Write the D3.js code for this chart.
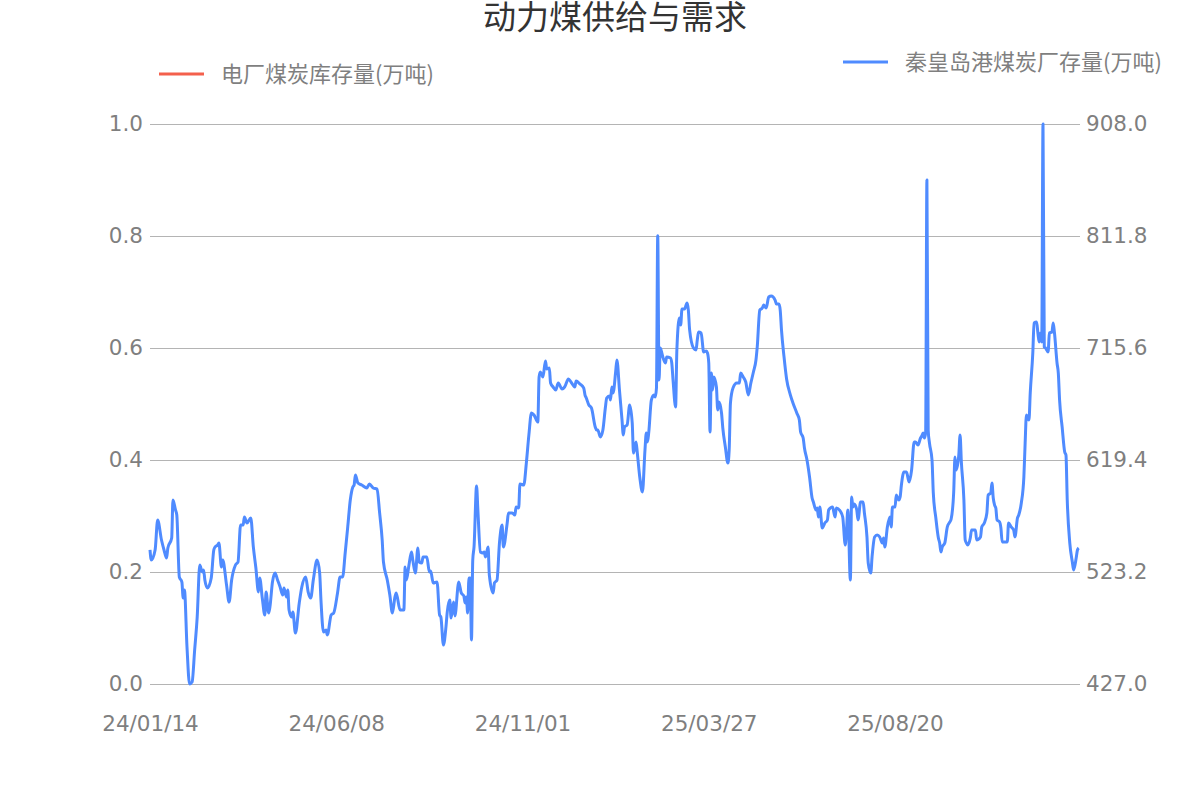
<!DOCTYPE html>
<html>
<head>
<meta charset="utf-8">
<script src="https://cdn.jsdelivr.net/npm/d3@7"></script>
<style>
  html, body { margin: 0; padding: 0; background: #ffffff; }
  svg { display: block; }
</style>
</head>
<body>
<svg id="chart" width="1200" height="800"></svg>
<script>
// ---------- data ----------
const chartTitle = "动力煤供给与需求";
const legendLeft = "电厂煤炭库存量(万吨)";
const legendRight = "秦皇岛港煤炭厂存量(万吨)";
const startDate = "2024-01-14";
const totalDays = 729;
const xTickLabels = ["24/01/14", "24/06/08", "24/11/01", "25/03/27", "25/08/20"];
const xTickDays = [0, 146, 292, 438, 584];
const leftTicks = [0, 0.2, 0.4, 0.6, 0.8, 1.0];
const rightTicks = [427.0, 523.2, 619.4, 715.6, 811.8, 908.0];
// power plant coal stock: no data shown
const plantStockDays = [];
const plantStockValues = [];
// Qinhuangdao port coal stock (10k tonnes): day offset from startDate, value
const portDays = [0,1,4,6,9,11,13,14,17,18,20,21,23,25,26,27,29,31,33,35,37,39,41,42,43,45,48,50,51,53,54,56,57,60,62,64,67,69,71,73,74,76,79,81,83,85,86,88,90,91,93,94,96,98,100,102,104,105,107,108,109,111,112,114,117,119,122,124,126,128,131,133,134,136,138,139,142,144,147,149,151,153,155,157,159,160,161,163,166,170,172,175,178,180,182,183,186,188,190,192,193,196,199,200,201,203,205,206,208,210,211,213,214,217,219,220,222,225,227,228,230,232,233,235,236,238,239,242,244,246,247,248,249,250,251,252,253,254,256,257,259,261,262,263,265,266,269,270,272,274,276,277,280,281,284,286,287,289,290,293,295,297,299,301,304,305,306,308,310,311,313,314,316,318,320,323,325,328,330,333,334,337,340,341,342,344,346,349,350,351,353,355,357,358,360,361,362,363,365,366,368,370,371,372,374,376,378,379,381,382,384,386,388,389,390,391,393,395,396,397,398,399,400,401,402,404,405,408,409,410,412,413,415,416,417,419,421,422,423,426,428,429,430,432,434,436,437,438,439,440,441,442,444,445,446,448,449,451,453,454,455,457,460,462,463,465,467,469,471,473,475,476,478,480,481,483,485,487,490,491,493,494,495,497,499,502,504,507,509,510,512,513,515,517,519,520,522,523,524,525,527,529,531,532,535,537,538,541,543,545,546,547,549,550,551,552,554,555,557,559,560,562,563,565,566,568,570,572,574,575,576,578,580,581,582,584,585,587,588,589,591,593,595,597,599,600,602,604,605,606,607,608,609,610,611,613,614,616,618,619,620,621,623,625,627,628,630,631,632,634,635,636,638,639,640,641,643,644,647,648,651,652,654,656,657,659,660,661,662,663,664,666,667,668,670,672,673,675,677,678,680,681,683,685,686,687,689,690,692,693,695,696,697,698,699,700,701,702,704,705,707,708,709,711,712,713,715,717,718,719,721,723,724,726,727,728];
const portValues = [542.1,533.5,542.1,567.9,550.7,542.1,535.2,543.8,552.4,585.0,576.5,572.2,518.9,514.6,500.9,507.7,458.8,427.0,428.7,456.2,484.6,529.2,523.2,525.0,516.3,509.5,518.1,542.1,544.7,546.4,548.1,527.5,533.5,512.0,497.4,516.3,529.2,531.8,563.6,563.6,570.4,565.3,569.6,544.7,526.6,506.0,518.1,500.9,486.3,506.0,488.0,493.1,514.6,522.3,516.3,510.3,503.4,509.5,501.7,507.7,490.6,484.6,488.8,470.8,496.6,510.3,518.9,506.0,500.9,516.3,533.5,522.3,499.2,471.7,473.4,469.1,486.3,488.0,505.2,518.9,518.9,539.5,561.9,585.0,596.2,597.9,606.5,599.6,597.9,595.4,598.8,595.4,594.5,573.9,550.7,531.8,516.3,503.4,488.0,501.7,505.2,490.6,490.6,527.5,516.3,529.2,540.4,533.5,522.3,543.8,531.8,530.9,536.1,536.1,523.2,524.1,513.8,514.6,486.3,484.6,460.5,476.0,488.8,499.2,483.7,497.4,485.4,514.6,505.2,502.6,496.6,501.7,488.0,518.1,518.1,464.8,533.5,544.7,597.1,576.5,540.4,539.5,540.4,536.1,544.7,520.6,505.2,513.8,516.3,549.0,563.6,544.7,565.3,573.9,573.9,572.2,579.0,578.2,598.8,597.9,616.8,640.9,659.8,658.1,652.0,690.7,695.0,690.7,704.4,697.6,698.4,685.5,682.1,679.5,685.5,680.4,682.1,689.0,686.4,682.1,687.3,684.7,681.2,675.2,672.7,666.6,664.1,647.8,645.2,645.2,639.2,645.2,664.9,672.7,674.4,670.9,682.1,677.0,695.0,705.3,679.5,653.8,640.9,647.8,649.5,666.6,651.2,625.4,634.9,625.4,603.9,591.9,628.0,642.6,634.9,643.5,670.9,675.2,673.5,681.2,812.0,688.1,715.6,712.2,707.9,702.7,707.9,707.0,702.7,688.1,664.9,713.9,741.4,735.4,749.1,749.1,754.3,748.2,731.1,715.6,713.9,722.5,729.3,728.5,712.2,713.0,711.3,702.7,643.5,694.1,679.5,690.7,682.1,662.4,669.2,659.8,646.9,630.6,616.8,628.0,668.4,681.2,685.5,685.5,694.1,690.7,686.4,675.2,685.5,695.0,705.3,716.5,748.2,750.0,752.5,750.0,759.4,760.3,756.8,753.4,753.4,748.2,731.1,707.9,689.0,675.2,668.4,659.8,653.8,643.5,638.3,629.7,619.4,604.8,586.8,583.3,576.5,578.2,570.4,579.0,561.0,565.3,567.9,576.5,579.0,570.4,578.2,575.6,570.4,546.4,559.3,576.5,516.3,587.6,579.0,581.6,576.5,567.9,583.3,583.3,573.9,553.3,530.9,522.3,536.1,553.3,555.0,553.3,548.1,552.4,544.7,561.9,570.4,561.9,579.0,579.0,589.3,585.0,587.6,597.9,609.1,609.1,600.5,610.8,634.9,634.9,632.3,638.3,640.0,642.6,638.3,642.6,860.0,645.2,634.0,619.4,591.1,569.6,552.4,548.1,540.4,544.7,548.1,561.9,566.2,568.7,591.9,622.0,610.8,623.7,640.9,617.7,585.0,550.7,548.1,546.4,552.4,559.3,559.3,550.7,553.3,561.9,565.3,573.9,589.3,591.1,599.6,586.8,580.8,578.2,567.9,566.2,561.0,549.0,549.0,549.0,565.3,561.9,559.3,553.3,569.6,572.2,582.5,604.8,634.0,658.1,653.8,677.0,711.3,737.1,737.9,728.5,720.8,728.5,720.8,908.0,716.5,715.6,712.2,728.5,729.3,737.1,728.5,702.7,694.1,670.9,647.8,626.3,623.7,585.0,548.1,531.8,525.0,535.2,542.1,543.8];

// ---------- chart ----------
const svg = d3.select("#chart");
const plot = { left: 150, right: 1080, top: 124, bottom: 684 };
const axisColor = "#7f7f7f";
const gridColor = "#b4b4b4";
const lineBlue = "#4f8bff";
const lineRed = "#f4604c";
const numFont = "'DejaVu Sans', 'Noto Sans CJK SC', sans-serif";
const cjkFont = "'Noto Sans CJK SC', 'DejaVu Sans', sans-serif";

const parseDate = d3.utcParse("%Y-%m-%d");
const t0 = parseDate(startDate);
const dayToDate = d => d3.utcDay.offset(t0, d);

const x = d3.scaleUtc()
  .domain([t0, dayToDate(totalDays)])
  .range([plot.left, plot.right]);
const yLeft = d3.scaleLinear().domain([0, 1]).range([plot.bottom, plot.top]);
const yRight = d3.scaleLinear().domain([rightTicks[0], rightTicks[rightTicks.length - 1]]).range([plot.bottom, plot.top]);

// title
svg.append("text")
  .attr("x", 615).attr("y", 29)
  .attr("text-anchor", "middle")
  .attr("font-family", cjkFont)
  .attr("font-size", 33)
  .attr("fill", "#333333")
  .text(chartTitle);

// gridlines + left axis
const leftAxis = d3.axisLeft(yLeft)
  .tickValues(leftTicks)
  .tickSize(-(plot.right - plot.left))
  .tickPadding(7)
  .tickFormat(d3.format(".1f"));
const gL = svg.append("g").attr("transform", `translate(${plot.left},0)`).call(leftAxis);
gL.select(".domain").remove();
gL.selectAll(".tick line").attr("stroke", gridColor).attr("stroke-width", 1);
gL.selectAll(".tick text").attr("fill", axisColor).attr("font-size", 21.5).attr("font-family", numFont);

// right axis
const rightAxis = d3.axisRight(yRight)
  .tickValues(rightTicks)
  .tickSize(0)
  .tickPadding(6)
  .tickFormat(d3.format(".1f"));
const gR = svg.append("g").attr("transform", `translate(${plot.right},0)`).call(rightAxis);
gR.select(".domain").remove();
gR.selectAll(".tick text").attr("fill", axisColor).attr("font-size", 21.5).attr("font-family", numFont);

// x axis
const xAxis = d3.axisBottom(x)
  .tickValues(xTickDays.map(dayToDate))
  .tickSize(0)
  .tickPadding(32)
  .tickFormat((d, i) => xTickLabels[i]);
const gX = svg.append("g").attr("transform", `translate(0,${plot.bottom})`).call(xAxis);
gX.select(".domain").remove();
gX.selectAll(".tick text").attr("fill", axisColor).attr("font-size", 21.5).attr("font-family", numFont);

// port stock line
const portData = portDays.map((d, i) => ({ date: dayToDate(d), value: portValues[i] }));
const line = d3.line()
  .x(d => x(d.date))
  .y(d => yRight(d.value))
  .curve(d3.curveMonotoneX);
svg.append("path")
  .datum(portData)
  .attr("fill", "none")
  .attr("stroke", lineBlue)
  .attr("stroke-width", 3)
  .attr("stroke-linejoin", "round")
  .attr("d", line);

// plant stock line (empty)
const plantData = plantStockDays.map((d, i) => ({ date: dayToDate(d), value: plantStockValues[i] }));
if (plantData.length) {
  svg.append("path").datum(plantData).attr("fill", "none").attr("stroke", lineRed).attr("stroke-width", 3)
    .attr("d", d3.line().x(d => x(d.date)).y(d => yLeft(d.value)));
}

// legends
function legend(xs, ys, color, label) {
  const g = svg.append("g");
  g.append("line").attr("x1", xs).attr("x2", xs + 45).attr("y1", ys).attr("y2", ys)
    .attr("stroke", color).attr("stroke-width", 3);
  g.append("text").attr("x", xs + 62).attr("y", ys).attr("dy", "0.35em")
    .attr("font-family", cjkFont).attr("font-size", 22).attr("fill", axisColor).text(label);
}
legend(159, 74, lineRed, legendLeft);
legend(843, 62, lineBlue, legendRight);
</script>
</body>
</html>
